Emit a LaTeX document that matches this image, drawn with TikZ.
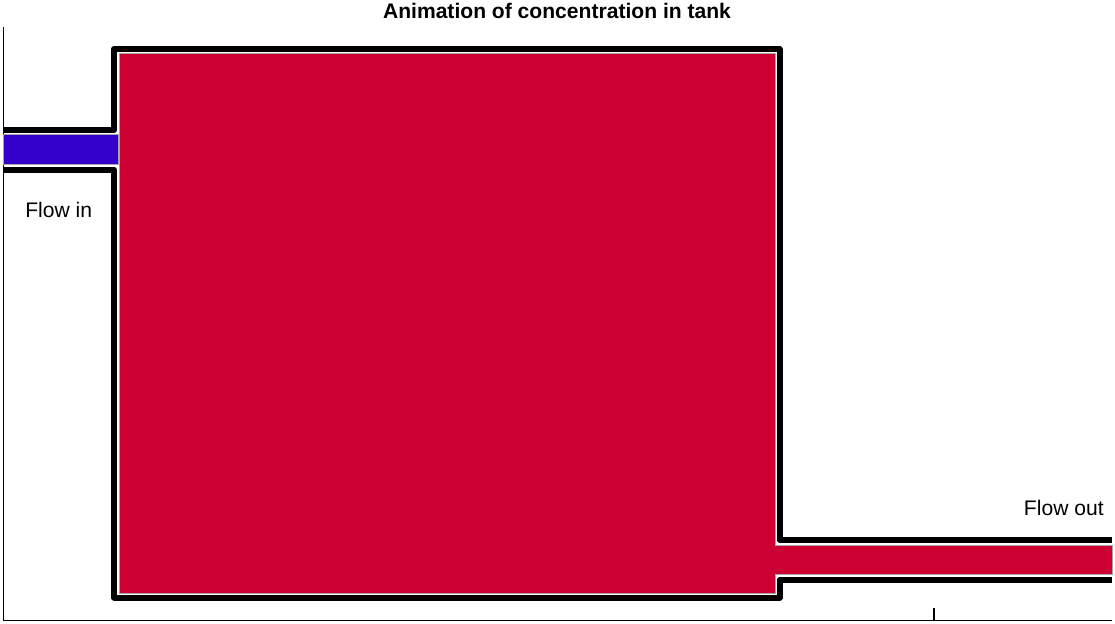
\documentclass[tikz,border=0pt]{standalone}
\usepackage{fontspec}
\setmainfont{Liberation Sans}
\usepackage{xcolor}
\definecolor{tankred}{HTML}{CC0033}
\definecolor{inblue}{HTML}{3300CC}

\begin{document}
\begin{tikzpicture}[x=0.02cm,y=-0.02cm]
\tikzset{wall/.style={line width=0.12cm, line join=round},
         patch/.style={draw=gray!70, line width=0.4pt},
         lbl/.style={font=\fontsize{12}{14}\selectfont, inner sep=0pt}}

\useasboundingbox (0,0) rectangle (1115,623);

% axes
\draw[line width=0.6pt] (3.5,27) -- (3.5,620.5) -- (1112,620.5);
\draw[line width=0.6pt] (934,620.5) -- (934,608);

% tank walls
\draw[wall] (3,130) -- (114,130) -- (114,49) -- (779.5,49) -- (779.5,540) -- (1112,540);
\draw[wall] (3,169.5) -- (114,169.5) -- (114,597.5) -- (779.5,597.5) -- (779.5,579.5) -- (1112,579.5);

% liquid
\fill[tankred, patch] (119,53) -- (775,53) -- (775,545) -- (1112,545) -- (1112,574.5)
  -- (775,574.5) -- (775,593) -- (119,593) -- cycle;
\fill[inblue, patch] (3,134) rectangle (118.5,164);

\node[lbl, font=\fontsize{12}{14}\selectfont\bfseries] (title) at (557,11) {Animation of concentration in tank};
\node[lbl, anchor=west] (flowin) at (25,210) {Flow in};
\node[lbl, anchor=east] (flowout) at (1104,508) {Flow out};

\end{tikzpicture}
\end{document}
